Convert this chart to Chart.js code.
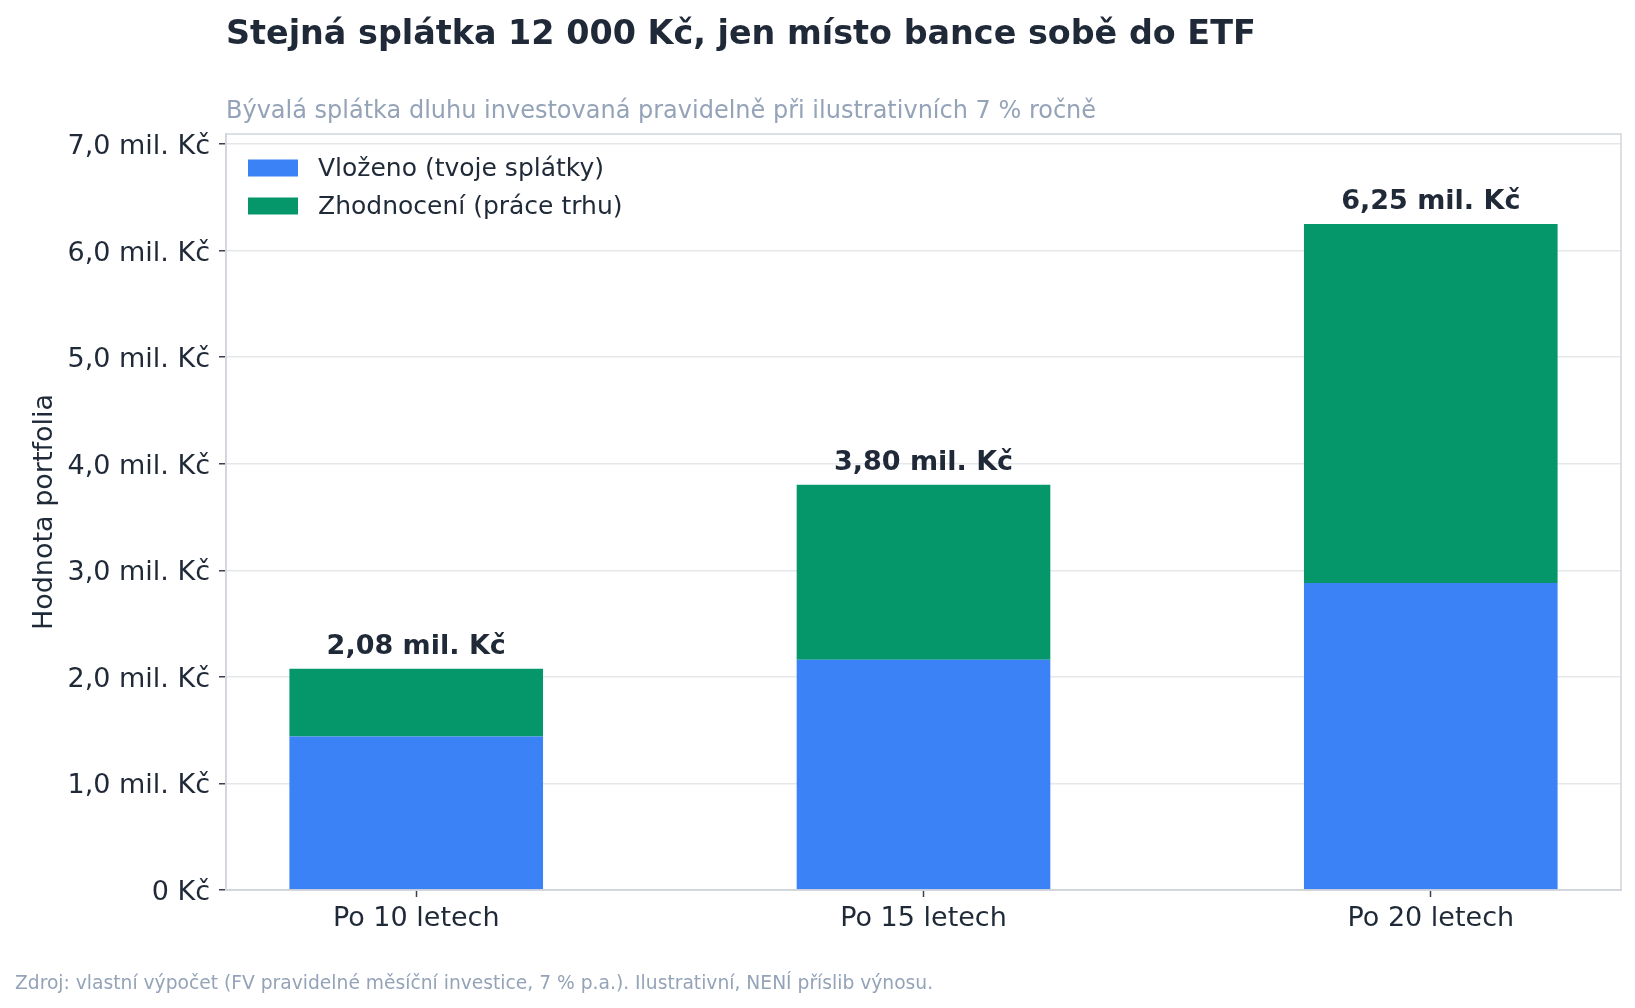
<!DOCTYPE html>
<html>
<head>
<meta charset="utf-8">
<script src="https://cdn.jsdelivr.net/npm/chart.js@4.4.1/dist/chart.umd.min.js"></script>
<style>
  html, body { margin: 0; padding: 0; background: #fff; }
  canvas { display: block; }
</style>
</head>
<body>
<canvas id="c" width="1635" height="1008"></canvas>
<script>
// data
const categories = ["Po 10 letech", "Po 15 letech", "Po 20 letech"];
const vlozeno = [1440000, 2160000, 2880000];
const zhodnoceni = [637000, 1643000, 3371000];
const seriesNames = ["Vloženo (tvoje splátky)", "Zhodnocení (práce trhu)"];
const yTickValues = [0, 1000000, 2000000, 3000000, 4000000, 5000000, 6000000, 7000000];

const titleText = "Stejná splátka 12 000 Kč, jen místo bance sobě do ETF";
const subtitleText = "Bývalá splátka dluhu investovaná pravidelně při ilustrativních 7 % ročně";
const footerText = "Zdroj: vlastní výpočet (FV pravidelné měsíční investice, 7 % p.a.). Ilustrativní, NENÍ příslib výnosu.";
const yAxisTitle = "Hodnota portfolia";

const BLUE = "#3b82f6", GREEN = "#059669";
const DARK = "#1f2937", GRAY = "#94a3b8";
const FONT = "'DejaVu Sans', sans-serif";

function fmtMil(v, digits) {
  if (v === 0) return "0 Kč";
  return (v / 1e6).toFixed(digits).replace(".", ",") + " mil. Kč";
}

const textPlugin = {
  id: "texts",
  afterDraw(chart) {
    const ctx = chart.ctx, a = chart.chartArea;
    ctx.save();
    // frame
    ctx.strokeStyle = "#d1d5db";
    ctx.lineWidth = 1.5;
    ctx.strokeRect(a.left, a.top, a.right - a.left, a.bottom - a.top);

    ctx.textAlign = "left";
    ctx.textBaseline = "alphabetic";
    ctx.fillStyle = DARK;
    ctx.font = "bold 33.4px " + FONT;
    ctx.fillText(titleText, 226, 44);
    ctx.fillStyle = GRAY;
    ctx.font = "24px " + FONT;
    ctx.fillText(subtitleText, 226, 118);
    ctx.font = "18.7px " + FONT;
    ctx.fillText(footerText, 15, 989);

    // legend inside the plot
    const colors = [BLUE, GREEN];
    ctx.font = "25px " + FONT;
    ctx.textBaseline = "middle";
    seriesNames.forEach((name, i) => {
      const cy = a.top + 34 + i * 38;
      ctx.fillStyle = colors[i];
      ctx.fillRect(a.left + 22, cy - 8.5, 50, 17);
      ctx.fillStyle = DARK;
      ctx.fillText(name, a.left + 92, cy + 1);
    });

    // totals above bars
    const meta = chart.getDatasetMeta(1);
    ctx.font = "bold 27px " + FONT;
    ctx.textAlign = "center";
    ctx.textBaseline = "alphabetic";
    ctx.fillStyle = DARK;
    meta.data.forEach((el, i) => {
      ctx.fillText(fmtMil(vlozeno[i] + zhodnoceni[i], 2), el.x, el.y - 15);
    });
    ctx.restore();
  }
};

new Chart(document.getElementById("c"), {
  type: "bar",
  data: {
    datasets: [
      {
        label: seriesNames[0],
        backgroundColor: BLUE,
        data: vlozeno.map((v, i) => ({ x: i, y: v }))
      }, {
        label: seriesNames[1],
        backgroundColor: GREEN,
        data: zhodnoceni.map((v, i) => ({ x: i, y: v }))
      }
    ]
  },
  options: {
    responsive: false,
    animation: false,
    devicePixelRatio: 1,
    layout: { padding: { left: 0, right: 14, top: 134, bottom: 0 } },
    datasets: { bar: { barPercentage: 0.5, categoryPercentage: 1 } },
    plugins: {
      legend: { display: false },
      title: { display: false },
      tooltip: { enabled: false }
    },
    scales: {
      x: {
        type: "linear",
        stacked: true,
        offset: false,
        min: -0.375,
        max: 2.375,
        afterFit(s) { s.height = 118; },
        afterBuildTicks(s) { s.ticks = categories.map((c, i) => ({ value: i })); },
        ticks: {
          callback: v => categories[v],
          font: { family: FONT, size: 27 },
          color: DARK,
          padding: 6
        },
        grid: { offset: false, drawOnChartArea: false, tickLength: 7, tickColor: "#374151", tickWidth: 1.5 },
        border: { color: "#d1d5db", width: 1.5 }
      },
      y: {
        stacked: true,
        min: 0,
        max: 7095000,
        afterFit(s) { s.width = 226; },
        afterBuildTicks(s) { s.ticks = yTickValues.map(v => ({ value: v })); },
        ticks: {
          callback: v => fmtMil(v, 1),
          font: { family: FONT, size: 27 },
          color: DARK,
          padding: 9,
          labelOffset: 3
        },
        grid: { color: "#e5e7eb", lineWidth: 1.5, tickLength: 7, tickColor: "#374151", tickWidth: 1.5 },
        border: { color: "#d1d5db", width: 1.5 },
        title: {
          display: true,
          text: yAxisTitle,
          font: { family: FONT, size: 27 },
          color: DARK,
          padding: { top: 29, bottom: 0 }
        }
      }
    }
  },
  plugins: [textPlugin]
});
</script>
</body>
</html>
